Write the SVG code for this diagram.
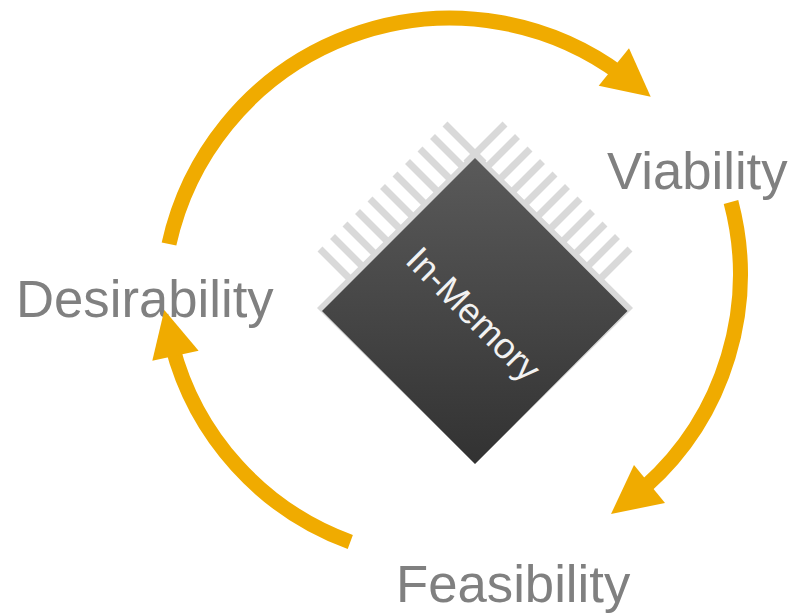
<svg xmlns="http://www.w3.org/2000/svg" width="794" height="613" viewBox="0 0 794 613">
<style>
.lbl{font-family:"Liberation Sans",Arial,sans-serif;font-size:52.700px;fill:#808080}
.arc{fill:none;stroke:#f0ab00;stroke-width:15}
.head{fill:#f0ab00}
.pin{stroke:#d9d9d9;stroke-width:7;fill:none}
</style>
<defs>
<linearGradient id="chip" x1="0" y1="0" x2="0" y2="1">
<stop offset="0" stop-color="#5a5a5a"/>
<stop offset="1" stop-color="#323232"/>
</linearGradient>
</defs>
<rect width="794" height="613" fill="#fff"/>
<g id="chip-node">
<path class="pin" d="M445 124L484 163M432.500 136.500L471.500 175.500M420 149L459 188M407.500 161.500L446.500 200.500M395 174L434 213M382.500 186.500L421.500 225.500M370 199L409 238M357.500 211.500L396.500 250.500M345 224L384 263M332.500 236.500L371.500 275.500M320 249L359 288"/>
<path class="pin" d="M505 124L466 163M517.500 136.500L478.500 175.500M530 149L491 188M542.500 161.500L503.500 200.500M555 174L516 213M567.500 186.500L528.500 225.500M580 199L541 238M592.500 211.500L553.500 250.500M605 224L566 263M617.500 236.500L578.500 275.500M630 249L591 288"/>
<polygon points="475,151 633,308 475,464 317,308" fill="#d9d9d9"/>
<polygon points="475,158 627.500,311 475,464 322,311" fill="url(#chip)"/>
<text transform="translate(404,262) rotate(45)" font-family="Liberation Sans,Arial,sans-serif" font-size="36" fill="#f2f2f2">In-Memory</text>
</g>
<g id="viability"><text class="lbl" x="607" y="188.500">Viability</text></g>
<g id="desirability"><text class="lbl" x="16" y="317">Desirability</text></g>
<g id="feasibility"><text class="lbl" x="396" y="602">Feasibility</text></g>
<g id="connectors">
<path class="arc" d="M169 244A288 288 0 0 1 622 75"/>
<polygon class="head" points="629,48.300 650.700,96.700 598.700,85.700"/>
<path class="arc" d="M731 202A285 285 0 0 1 645 487"/>
<polygon class="head" points="634,465 665,503 611,514"/>
<path class="arc" d="M350.300 542A285 285 0 0 1 172 345"/>
<polygon class="head" points="152.300,360.700 198.600,350.700 164.300,310"/>
</g>
</svg>
